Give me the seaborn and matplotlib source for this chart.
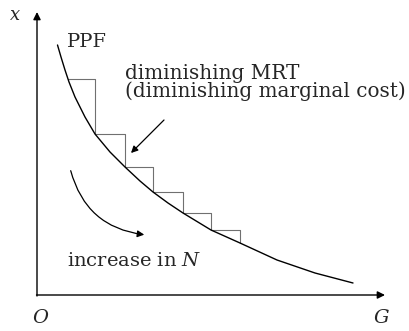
import matplotlib
matplotlib.use("Agg")
import matplotlib.pyplot as plt
import seaborn as sns
import pandas as pd
from matplotlib.patches import FancyArrowPatch

sns.set_theme(style="white")
plt.rcParams['font.family'] = ['DejaVu Serif', 'DejaVu Sans']
plt.rcParams['mathtext.fontset'] = 'dejavuserif'

# PPF curve points (G, x)
ppf_G = [2.05, 2.4, 2.8, 3.2, 3.8, 4.8, 5.8, 7.3, 8.8, 10.3, 11.6, 13.1, 14.6, 17.4, 20.3, 24.0, 27.8, 31.6]
ppf_x = [25.0, 23.8, 22.5, 21.3, 19.8, 17.8, 16.1, 14.3, 12.8, 11.4, 10.3, 9.2, 8.2, 6.5, 5.2, 3.5, 2.2, 1.2]

# staircase corner points on the curve
step_G = [3.1, 5.8, 8.8, 11.6, 14.6, 17.4, 20.3]
step_x = [21.6, 16.1, 12.8, 10.3, 8.2, 6.5, 5.2]

labels = {
    "yaxis": "x",
    "xaxis": "G",
    "origin": "O",
    "curve": "PPF",
    "mrt1": "diminishing MRT",
    "mrt2": "(diminishing marginal cost)",
    "incr": "increase in $N$",
}

fig = plt.figure(figsize=(4.10, 3.31), dpi=100)
ax = fig.add_axes([0, 0, 1, 1])
ax.set_xlim(-3.7, 37.3)
ax.set_ylim(-3.6, 29.5)
ax.axis("off")

curve_df = pd.DataFrame({"G": ppf_G, "x": ppf_x})
step_df = pd.DataFrame({"G": step_G, "x": step_x})

sns.lineplot(data=step_df, x="G", y="x", ax=ax, sort=False, drawstyle="steps-post",
             color="#707070", lw=0.8)
sns.lineplot(data=curve_df, x="G", y="x", ax=ax, sort=False, color="black", lw=1.0)

# axes with arrows
ax.annotate("", xy=(0, 28.3), xytext=(0, -0.1),
            arrowprops=dict(arrowstyle="-|>", color="black", lw=1.0, mutation_scale=11,
                            shrinkA=0, shrinkB=0))
ax.annotate("", xy=(34.8, 0), xytext=(-0.05, 0),
            arrowprops=dict(arrowstyle="-|>", color="black", lw=1.0, mutation_scale=11,
                            shrinkA=0, shrinkB=0))

# axis labels
ax.text(-2.2, 28.0, labels["yaxis"], style="italic", fontsize=13, ha="center", va="center")
ax.text(0.3, -2.3, labels["origin"], style="italic", fontsize=14, ha="center", va="center")
ax.text(34.4, -2.3, labels["xaxis"], style="italic", fontsize=14, ha="center", va="center")

# annotations
ax.text(3.0, 24.8, labels["curve"], fontsize=14, ha="left", va="baseline")
ax.text(8.8, 21.6, labels["mrt1"], fontsize=14.4, ha="left", va="baseline")
ax.text(8.8, 19.8, labels["mrt2"], fontsize=14.4, ha="left", va="baseline")
ax.annotate("", xy=(9.4, 14.2), xytext=(12.7, 17.5),
            arrowprops=dict(arrowstyle="-|>", color="black", lw=0.9, mutation_scale=10,
                            shrinkA=0, shrinkB=0))
arc = FancyArrowPatch((3.3, 12.7), (11.0, 6.0), connectionstyle="arc3,rad=0.35",
                      arrowstyle="-|>", mutation_scale=10, color="black", lw=0.9)
ax.add_patch(arc)
ax.text(3.0, 2.9, labels["incr"], fontsize=14, ha="left", va="baseline")

fig.savefig("out.png", dpi=100)
